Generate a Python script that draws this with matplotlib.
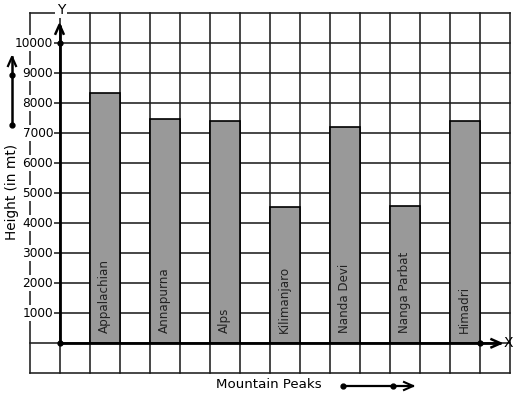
import matplotlib
matplotlib.use("Agg")
import matplotlib.pyplot as plt

peaks = ["Appalachian", "Annapurna", "Alps", "Kilimanjaro", "Nanda Devi", "Nanga Parbat", "Himadri"]
heights = [8360, 7490, 7420, 4560, 7220, 4590, 7420]
ytick_values = [1000, 2000, 3000, 4000, 5000, 6000, 7000, 8000, 9000, 10000]
bar_positions = [1, 3, 5, 7, 9, 11, 13]

W, H = 517, 399
fig = plt.figure(figsize=(W / 100, H / 100), dpi=100)
ax = fig.add_axes([0, 0, 1, 1])
ox, oy = 59.5, 343.3
px = 1 / 30.0          # x data units per pixel
py = 1000 / 30.0       # y data units per pixel
ax.set_xlim(-ox * px, (W - ox) * px)
ax.set_ylim(-(H - oy) * py, oy * py)
ax.axis("off")

gc = "#1e1e1e"
# grid
for gx in range(-1, 16):
    ax.plot([gx, gx], [-1000, 11000], color=gc, lw=1.15, zorder=1)
for gy in range(-1000, 11001, 1000):
    ax.plot([-1, 15], [gy, gy], color=gc, lw=1.15, zorder=1)

# bars
ax.bar(bar_positions, heights, width=1, align="edge", color="#999999",
       edgecolor="black", linewidth=1.2, zorder=2)
for x, name in zip(bar_positions, peaks):
    ax.text(x + 0.5, 10 * py, name, rotation=90, ha="center", va="bottom",
            fontsize=8.6, color="#222222", zorder=3)

# axes lines
ax.plot([0, 0], [0, 10620], color="black", lw=2.0, zorder=4, solid_capstyle="butt")
ax.plot([-4 * px, 0, 4 * px], [10620 - 9 * py, 10620, 10620 - 9 * py], color="black", lw=1.8, zorder=4)
ax.plot([0, 14.7], [0, 0], color="black", lw=2.0, zorder=4, solid_capstyle="butt")
ax.plot([14.7 - 9 * px, 14.7, 14.7 - 9 * px], [4 * py, 0, -4 * py], color="black", lw=1.8, zorder=4)
ax.plot([0, 0, 14], [0, 10000, 0], "o", color="black", ms=3.5, zorder=5)
ax.text(14.97, 0, "X", ha="center", va="center", fontsize=10, zorder=5)
ax.text(0.05, 11000 + 3.5 * py, "Y", ha="center", va="center", fontsize=10, zorder=5,
        bbox=dict(facecolor="white", edgecolor="none", pad=1.2))

# y tick labels
for v in ytick_values:
    ax.text(-6.5 * px, v, str(v), ha="right", va="center", fontsize=8.7, zorder=5,
            bbox=dict(facecolor="white", edgecolor="none", pad=1.0))

# y label and arrow
ax.text(-47 * px, (oy - 192) * py, "Height (in mt)", rotation=90, ha="center", va="center", fontsize=9.8, zorder=5)
lx = -47.5 * px
ytop = (oy - 57) * py
ax.plot([lx, lx], [(oy - 125) * py, ytop], color="black", lw=1.8, zorder=4)
ax.plot([lx - 4 * px, lx, lx + 4 * px], [ytop - 9 * py, ytop, ytop - 9 * py], color="black", lw=1.6, zorder=4)
ax.plot([lx, lx], [(oy - 125) * py, (oy - 75) * py], "o", color="black", ms=3.5, zorder=5)

# x label and arrow
ax.text(268.5 * px - ox * px, -(385 - oy) * py, "Mountain Peaks", ha="center", va="center", fontsize=9.6, zorder=5)
ax0 = (343 - ox) * px
ax1 = (413 - ox) * px
ay = -(386 - oy) * py
ax.plot([ax0, ax1], [ay, ay], color="black", lw=1.6, zorder=4)
ax.plot([ax1 - 9 * px, ax1, ax1 - 9 * px], [ay + 4 * py, ay, ay - 4 * py], color="black", lw=1.5, zorder=4)
ax.plot([ax0, (393 - ox) * px], [ay, ay], "o", color="black", ms=3.5, zorder=5)

fig.savefig("out.png", dpi=100, facecolor="white")
